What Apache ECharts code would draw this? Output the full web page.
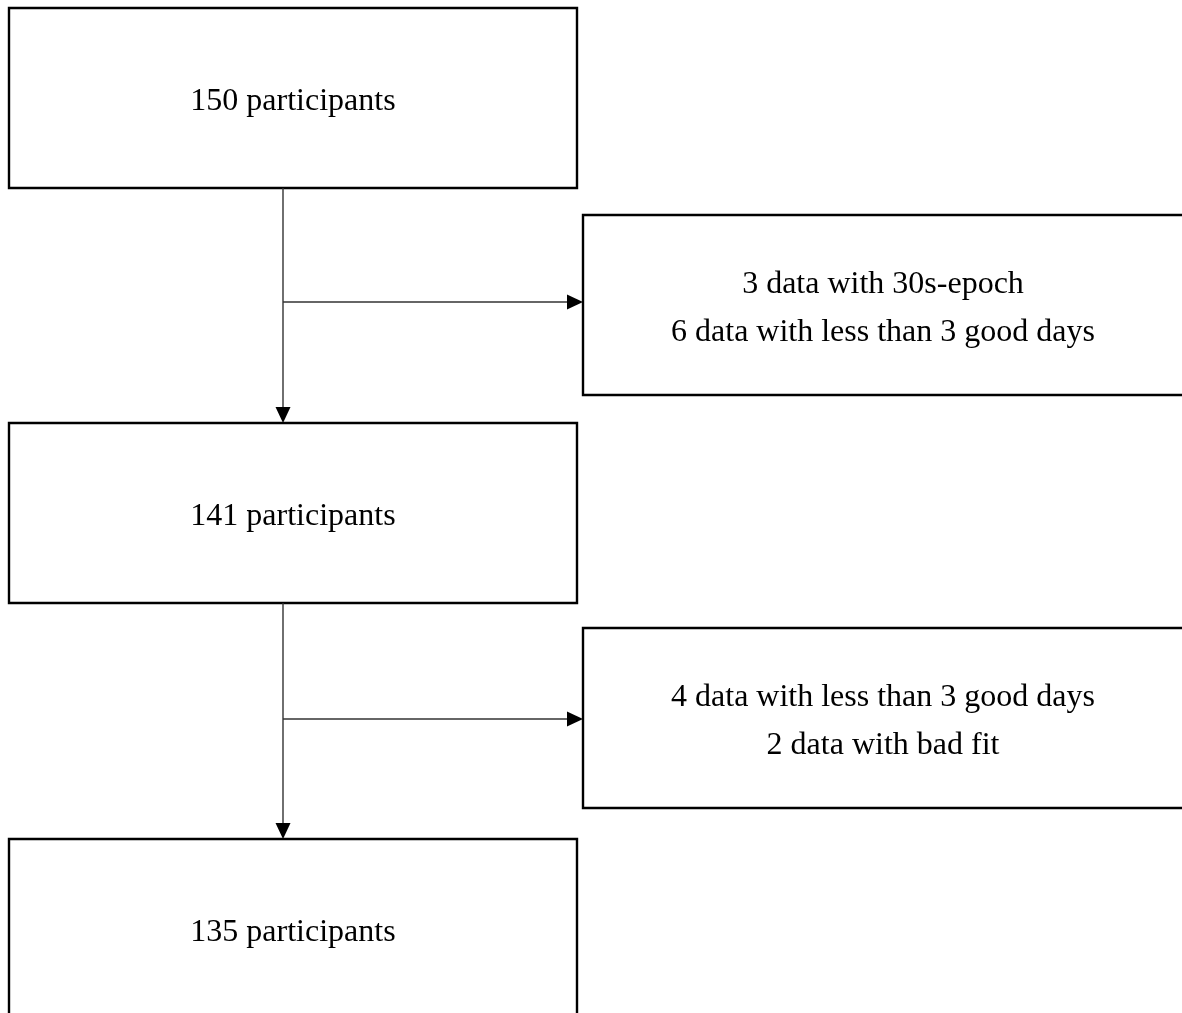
<!DOCTYPE html>
<html>
<head>
<meta charset="utf-8">
<script src="https://cdn.jsdelivr.net/npm/echarts@6/dist/echarts.min.js"></script>
<style>
  html, body { margin: 0; padding: 0; background: #fff; }
  #chart { width: 1182px; height: 1013px; }
</style>
</head>
<body>
<div id="chart"></div>
<script>
// ---- data ----
const stageCounts = [150, 141, 135];
const stageUnit = "participants";
const exclusionReasons1 = ["3 data with 30s-epoch", "6 data with less than 3 good days"];
const exclusionReasons2 = ["4 data with less than 3 good days", "2 data with bad fit"];

// ---- layout (pixel space mapped through hidden value axes) ----
const mainBoxX = [9, 577];
const mainBoxTops = [8, 423, 839];
const boxHeight = 180;
const sideBoxX = [583, 1186];
const sideBoxTops = [215, 628];
const spineX = 283;
const branchY = [302, 719];

const boxes = [];
stageCounts.forEach((c, i) => {
  boxes.push({ x0: mainBoxX[0], x1: mainBoxX[1], y0: mainBoxTops[i], y1: mainBoxTops[i] + boxHeight,
               lines: [c + " " + stageUnit], tx: (mainBoxX[0] + mainBoxX[1]) / 2 });
});
[exclusionReasons1, exclusionReasons2].forEach((reasons, i) => {
  boxes.push({ x0: sideBoxX[0], x1: sideBoxX[1], y0: sideBoxTops[i], y1: sideBoxTops[i] + boxHeight,
               lines: reasons, tx: 883 });
});

// connectors: [x0,y0,x1,y1,dir]
const connectors = [
  [spineX, mainBoxTops[0] + boxHeight, spineX, mainBoxTops[1], 'down'],
  [spineX, mainBoxTops[1] + boxHeight, spineX, mainBoxTops[2], 'down'],
  [spineX, branchY[0], sideBoxX[0], branchY[0], 'right'],
  [spineX, branchY[1], sideBoxX[0], branchY[1], 'right']
];

const chart = echarts.init(document.getElementById('chart'), null, { renderer: 'canvas' });
const FONT = '32px "Liberation Serif", "Times New Roman", serif';

chart.setOption({
  backgroundColor: '#ffffff',
  animation: false,
  grid: { left: 0, right: 0, top: 0, bottom: 0 },
  xAxis: { type: 'value', min: 0, max: 1182, show: false },
  yAxis: { type: 'value', min: 0, max: 1013, inverse: true, show: false },
  series: [
    {
      type: 'custom',
      coordinateSystem: 'cartesian2d',
      clip: false,
      data: boxes.map((b, i) => [i]),
      renderItem: function (params, api) {
        const b = boxes[api.value(0)];
        const p0 = api.coord([b.x0, b.y0]);
        const p1 = api.coord([b.x1, b.y1]);
        const tc = api.coord([b.tx, (b.y0 + b.y1) / 2]);
        return {
          type: 'group',
          children: [
            { type: 'rect',
              shape: { x: p0[0], y: p0[1], width: p1[0] - p0[0], height: p1[1] - p0[1] },
              style: { fill: '#ffffff', stroke: '#000000', lineWidth: 2.4 } },
            { type: 'text',
              x: tc[0], y: tc[1] + 4,
              style: { text: b.lines.join('\n'), font: FONT, fill: '#000000',
                       align: 'center', verticalAlign: 'middle', lineHeight: 48 } }
          ]
        };
      }
    },
    {
      type: 'custom',
      coordinateSystem: 'cartesian2d',
      clip: false,
      data: connectors.map((c, i) => [i]),
      renderItem: function (params, api) {
        const c = connectors[api.value(0)];
        const a = api.coord([c[0], c[1]]);
        const b = api.coord([c[2], c[3]]);
        const L = 16, W = 7.5;
        let line, head;
        if (c[4] === 'down') {
          line = { x1: a[0], y1: a[1], x2: b[0], y2: b[1] - L + 1 };
          head = [[b[0] - W, b[1] - L], [b[0] + W, b[1] - L], [b[0], b[1]]];
        } else {
          line = { x1: a[0], y1: a[1], x2: b[0] - L + 1, y2: b[1] };
          head = [[b[0] - L, b[1] - W], [b[0] - L, b[1] + W], [b[0], b[1]]];
        }
        return {
          type: 'group',
          children: [
            { type: 'line', shape: line, style: { stroke: '#333333', lineWidth: 1.4 } },
            { type: 'polygon', shape: { points: head }, style: { fill: '#000000' } }
          ]
        };
      }
    }
  ]
});
</script>
</body>
</html>
